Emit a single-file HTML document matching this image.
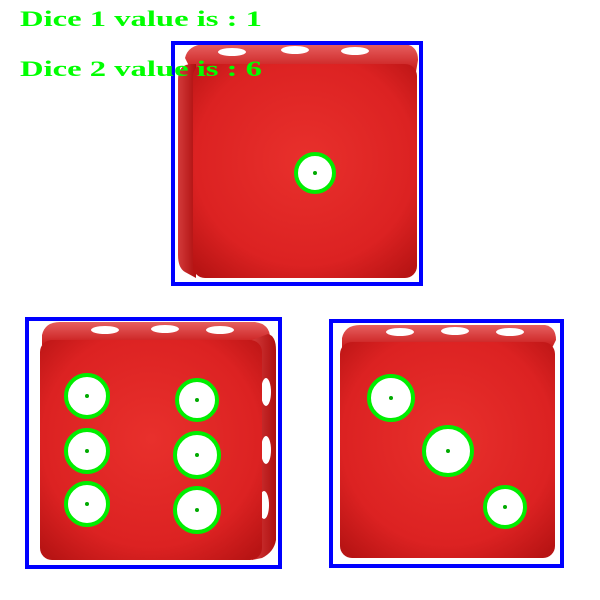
<!DOCTYPE html>
<html><head><meta charset="utf-8"><style>
html,body{margin:0;padding:0;background:#fff;width:600px;height:600px;overflow:hidden}
svg{display:block}
text{font-family:"Liberation Mono",monospace;font-weight:bold;fill:#00ff00;font-size:22px}
</style></head><body>
<svg width="600" height="600" viewBox="0 0 600 600">
<defs>
<radialGradient id="face" cx="50%" cy="45%" r="70%">
<stop offset="0" stop-color="#e8302c"/><stop offset="0.7" stop-color="#dc2222"/><stop offset="1" stop-color="#b81414"/>
</radialGradient>
<linearGradient id="top" x1="0" y1="0" x2="0" y2="1"><stop offset="0" stop-color="#e66060"/><stop offset="1" stop-color="#c81818"/></linearGradient>
<linearGradient id="side" x1="0" y1="0" x2="1" y2="0"><stop offset="0" stop-color="#d23a3a"/><stop offset="1" stop-color="#b01010"/></linearGradient>
</defs>

<g>
<path d="M185,58 Q188,45 205,44 L405,44 Q418,46 418,60 L416,72 L192,72 Z" fill="url(#top)"/>
<ellipse cx="232" cy="52" rx="14" ry="4" fill="#fff"/><ellipse cx="295" cy="50" rx="14" ry="4" fill="#fff"/><ellipse cx="355" cy="51" rx="14" ry="4" fill="#fff"/>
<path d="M178,80 Q178,64 192,64 L196,64 L196,278 L185,272 Q178,268 178,255 Z" fill="url(#side)"/>
<rect x="193" y="64" width="224" height="214" rx="12" fill="url(#face)"/>
<circle cx="315" cy="173" r="20" fill="#fff"/>
<circle cx="315" cy="173" r="19" fill="none" stroke="#00ee00" stroke-width="4"/>
<circle cx="315" cy="173" r="2" fill="#00aa00"/>
<rect x="173" y="43" width="248" height="241" fill="none" stroke="#0000ff" stroke-width="4"/>
</g>

<g>
<path d="M42,335 Q45,322 60,322 L255,322 Q270,324 270,338 L262,345 L42,345 Z" fill="url(#top)"/>
<ellipse cx="105" cy="330" rx="14" ry="4" fill="#fff"/><ellipse cx="165" cy="329" rx="14" ry="4" fill="#fff"/><ellipse cx="220" cy="330" rx="14" ry="4" fill="#fff"/>
<path d="M252,340 L268,334 Q276,336 276,350 L276,540 Q274,552 262,558 L252,560 Z" fill="url(#side)"/>
<ellipse cx="266" cy="392" rx="5" ry="14" fill="#fff"/><ellipse cx="266" cy="450" rx="5" ry="14" fill="#fff"/><ellipse cx="264" cy="505" rx="5" ry="14" fill="#fff"/>
<rect x="40" y="340" width="222" height="220" rx="12" fill="url(#face)"/>
<g>
<circle cx="87" cy="396" r="22" fill="#fff"/><circle cx="87" cy="396" r="21" fill="none" stroke="#00ee00" stroke-width="4"/><circle cx="87" cy="396" r="2" fill="#00aa00"/>
<circle cx="87" cy="451" r="22" fill="#fff"/><circle cx="87" cy="451" r="21" fill="none" stroke="#00ee00" stroke-width="4"/><circle cx="87" cy="451" r="2" fill="#00aa00"/>
<circle cx="87" cy="504" r="22" fill="#fff"/><circle cx="87" cy="504" r="21" fill="none" stroke="#00ee00" stroke-width="4"/><circle cx="87" cy="504" r="2" fill="#00aa00"/>
<circle cx="197" cy="400" r="21" fill="#fff"/><circle cx="197" cy="400" r="20" fill="none" stroke="#00ee00" stroke-width="4"/><circle cx="197" cy="400" r="2" fill="#00aa00"/>
<circle cx="197" cy="455" r="23" fill="#fff"/><circle cx="197" cy="455" r="22" fill="none" stroke="#00ee00" stroke-width="4"/><circle cx="197" cy="455" r="2" fill="#00aa00"/>
<circle cx="197" cy="510" r="23" fill="#fff"/><circle cx="197" cy="510" r="22" fill="none" stroke="#00ee00" stroke-width="4"/><circle cx="197" cy="510" r="2" fill="#00aa00"/>
</g>
<rect x="27" y="319" width="253" height="248" fill="none" stroke="#0000ff" stroke-width="4"/>
</g>

<g>
<path d="M342,338 Q345,325 360,325 L545,325 Q556,327 556,340 L552,348 L342,348 Z" fill="url(#top)"/>
<ellipse cx="400" cy="332" rx="14" ry="4" fill="#fff"/><ellipse cx="455" cy="331" rx="14" ry="4" fill="#fff"/><ellipse cx="510" cy="332" rx="14" ry="4" fill="#fff"/>
<rect x="340" y="342" width="215" height="216" rx="12" fill="url(#face)"/>
<g>
<circle cx="391" cy="398" r="23" fill="#fff"/><circle cx="391" cy="398" r="22" fill="none" stroke="#00ee00" stroke-width="4"/><circle cx="391" cy="398" r="2" fill="#00aa00"/>
<circle cx="448" cy="451" r="25" fill="#fff"/><circle cx="448" cy="451" r="24" fill="none" stroke="#00ee00" stroke-width="4"/><circle cx="448" cy="451" r="2" fill="#00aa00"/>
<circle cx="505" cy="507" r="21" fill="#fff"/><circle cx="505" cy="507" r="20" fill="none" stroke="#00ee00" stroke-width="4"/><circle cx="505" cy="507" r="2" fill="#00aa00"/>
</g>
<rect x="331" y="321" width="231" height="245" fill="none" stroke="#0000ff" stroke-width="4"/>
</g>

<text x="20" y="26" textLength="242" lengthAdjust="spacingAndGlyphs" style="font-family:'Liberation Serif',serif">Dice 1 value is : 1</text>
<text x="20" y="76" textLength="242" lengthAdjust="spacingAndGlyphs" style="font-family:'Liberation Serif',serif">Dice 2 value is : 6</text>
</svg>
</body></html>
